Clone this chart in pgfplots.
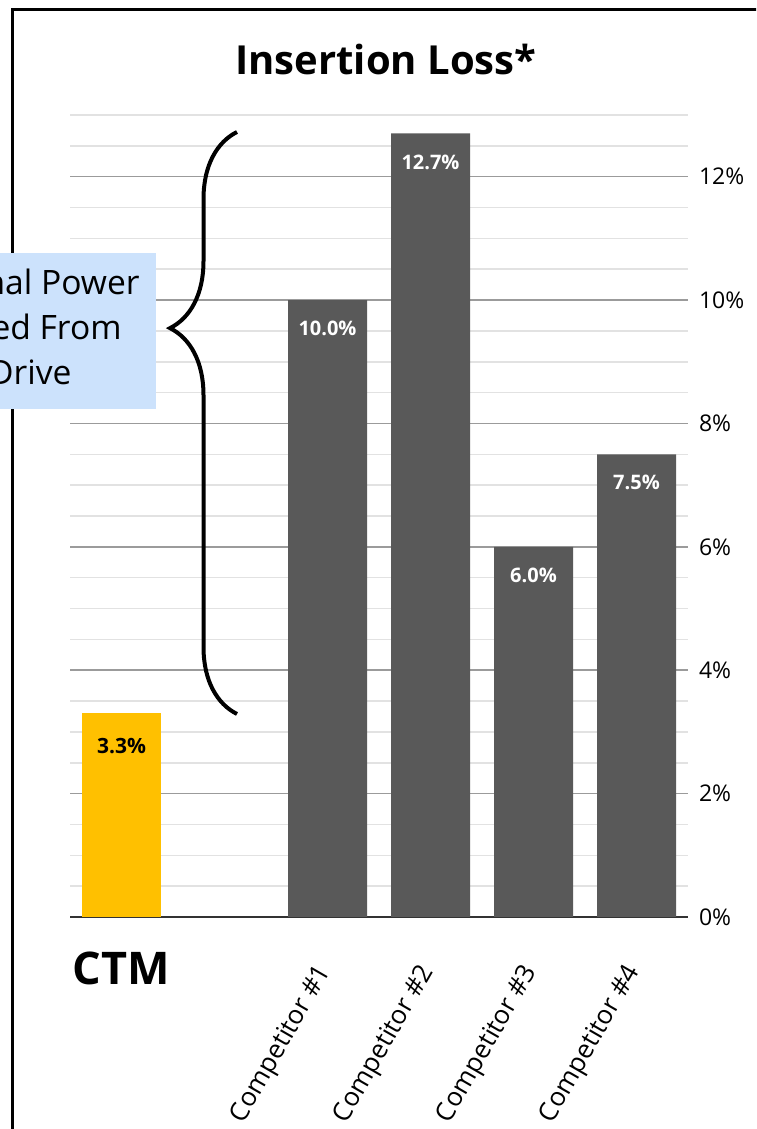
\documentclass[border=0pt]{standalone}
\usepackage{fontspec}
\setmainfont{Open Sans}
\usepackage{pgfplots}
\pgfplotsset{compat=1.18}
\usetikzlibrary{decorations.pathreplacing}
\definecolor{gold}{RGB}{255,192,0}
\definecolor{bargray}{RGB}{89,89,89}
\definecolor{majgrid}{RGB}{155,155,155}
\definecolor{mingrid}{RGB}{226,226,226}
\definecolor{boxblue}{RGB}{204,226,252}
\begin{document}
\begin{tikzpicture}
\useasboundingbox (0pt,0pt) rectangle (378pt,564.5pt);
\begin{scope}
\clip (0pt,0pt) rectangle (378pt,564.5pt);
\begin{scope}[x=0.5pt,y=0.5pt]
\draw[line width=1.5pt] (12,-5) -- (12,1119) -- (770,1119);
\node[font=\bfseries\fontsize{20}{24}\selectfont] at (386,1129-60) {Insertion Loss*};
\end{scope}
\begin{axis}[
  at={(35pt,106pt)}, anchor=south west,
  width=309pt, height=401pt, scale only axis,
  xmin=-0.5, xmax=5.5, ymin=0, ymax=13,
  axis x line=bottom, axis y line=right,
  axis line style={-},
  x axis line style={line width=1pt, color=black!80},
  y axis line style={draw=none},
  /pgf/number format/assume math mode=true,
  ytick={0,2,4,6,8,10,12},
  minor ytick={0.5,1,1.5,2.5,3,3.5,4.5,5,5.5,6.5,7,7.5,8.5,9,9.5,10.5,11,11.5,12.5,13},
  yticklabel={\pgfmathprintnumber{\tick}\%},
  yticklabel style={font=\fontsize{11.5}{14}\selectfont, anchor=west, xshift=2pt},
  ymajorgrids, yminorgrids,
  major grid style={majgrid, line width=0.75pt},
  minor grid style={mingrid, line width=0.75pt},
  major tick length=0pt, minor tick length=0pt,
  xtick={2,3,4,5},
  xticklabels={Competitor \#1, Competitor \#2, Competitor \#3, Competitor \#4},
  xticklabel style={font=\fontsize{13}{15}\selectfont, rotate=60, anchor=east, xshift=-19pt, yshift=-12pt},
  clip=false,
]
\addplot[ybar, bar width=39.5pt, bar shift=0pt, fill=gold, draw=none,
  nodes near coords={\pgfmathprintnumber[fixed,fixed zerofill,precision=1]{\pgfplotspointmeta}\%},
  every node near coord/.append style={anchor=north, yshift=-9pt, font=\bfseries\fontsize{10.5}{12}\selectfont, text=black}]
  coordinates {(0,3.3)};
\addplot[ybar, bar width=39.5pt, bar shift=0pt, fill=bargray, draw=none,
  nodes near coords={\pgfmathprintnumber[fixed,fixed zerofill,precision=1]{\pgfplotspointmeta}\%},
  every node near coord/.append style={anchor=north, yshift=-7pt, font=\bfseries\fontsize{10}{12}\selectfont, text=white}]
  coordinates {(2,10.0) (3,12.7) (4,6.0) (5,7.5)};
\node[font=\bfseries\fontsize{22.5}{26}\selectfont, anchor=base, yshift=-34pt] at (axis cs:0,0) {CTM};
\end{axis}
\begin{scope}[x=0.5pt,y=0.5pt]
\fill[boxblue] (-300,1129-409) rectangle (156,1129-253);
\begin{scope}[every node/.style={inner sep=0pt, anchor=base east, font=\fontsize{16.8}{19}\selectfont}]
\node at (140,1129-295) {Additional Power};
\node at (122,1129-340) {Required From};
\node at (72,1129-385) {Drive};
\end{scope}
\draw[decorate, decoration={brace, amplitude=33.5pt, aspect=0.663}, line width=2pt] (237,1129-714) -- (237,1129-132);
\end{scope}
\end{scope}
\end{tikzpicture}
\end{document}
